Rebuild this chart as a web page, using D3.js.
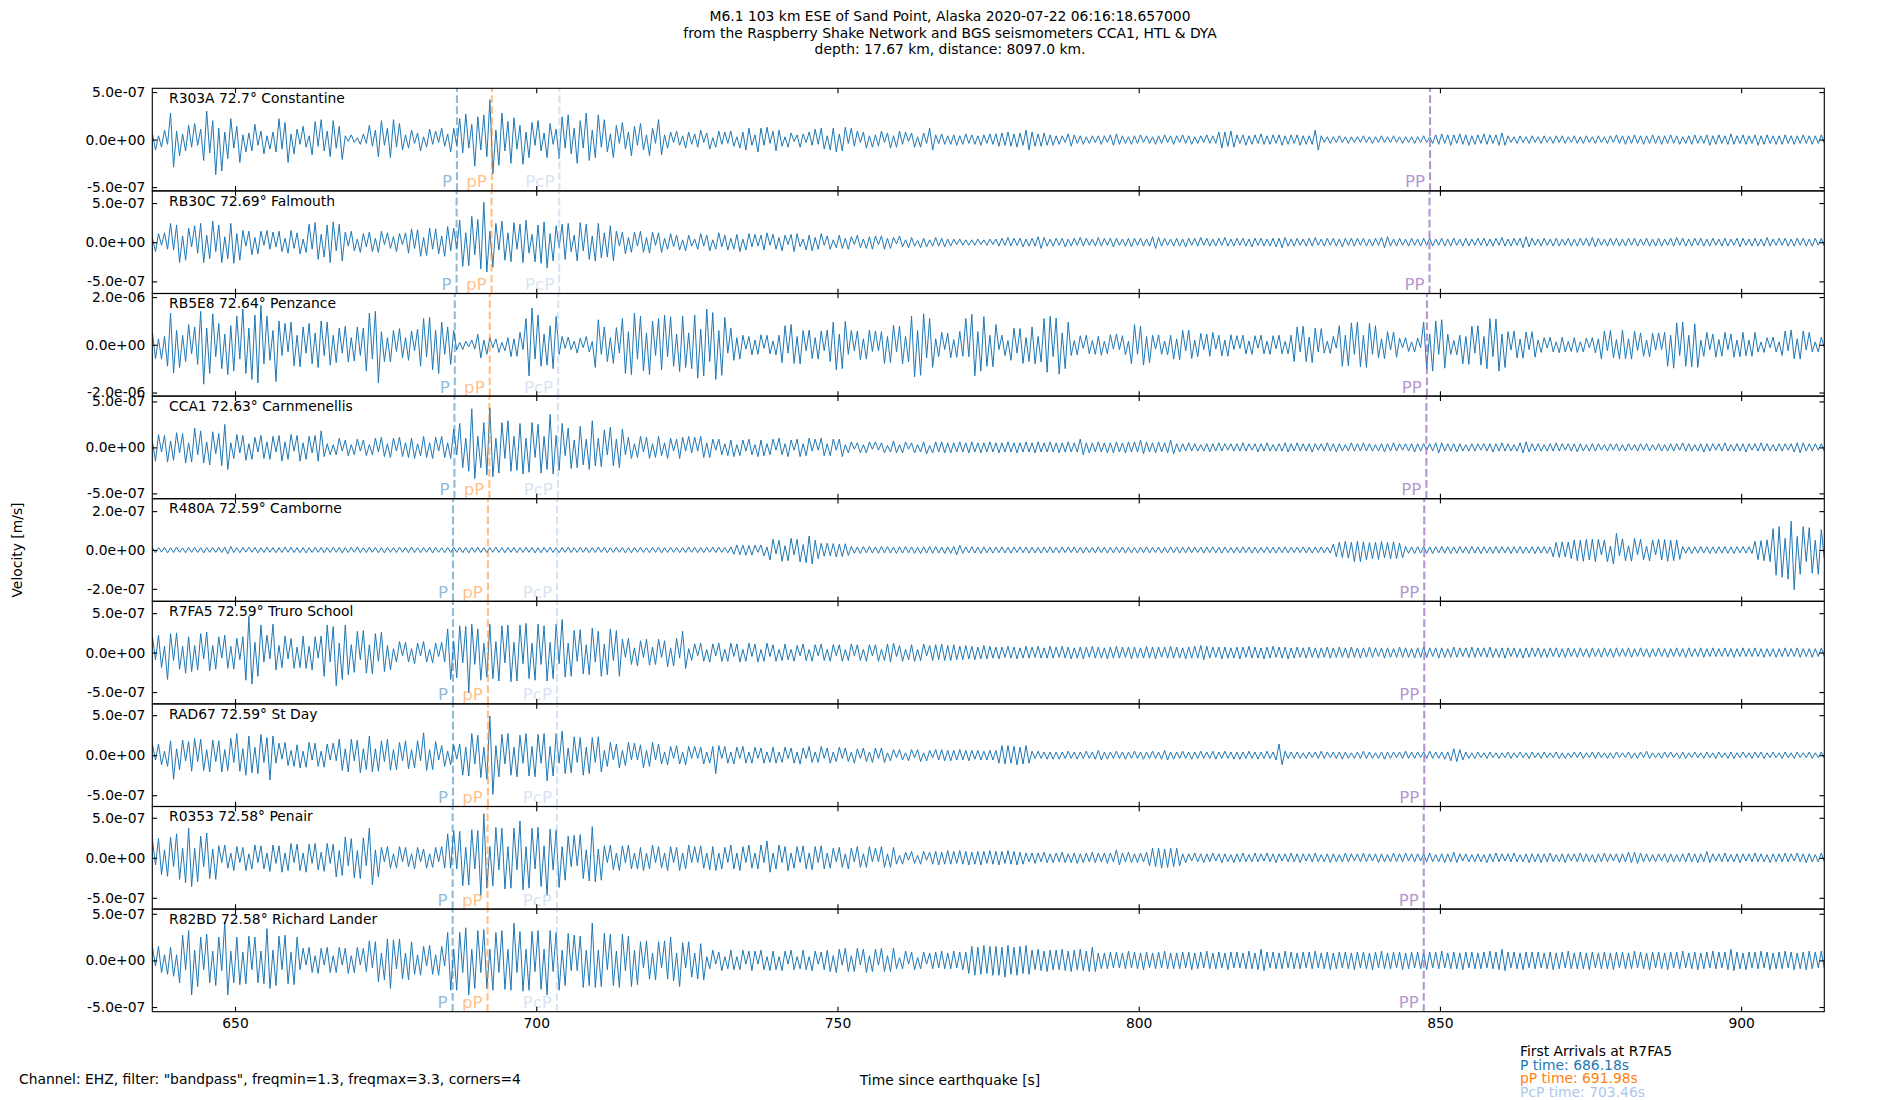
<!DOCTYPE html>
<html><head><meta charset="utf-8">
<script src="https://cdn.jsdelivr.net/npm/d3@7/dist/d3.min.js"></script>
<style>body{margin:0;background:#fff}svg text{font-family:"DejaVu Sans",sans-serif}</style>
</head><body><svg id="chart" width="1900" height="1100"></svg>
<script>
// ---------- data ----------
const stations = ["R303A","RB30C","RB5E8","CCA1","R480A","R7FA5","RAD67","R0353","R82BD"];
const distances = [72.7,72.69,72.64,72.63,72.59,72.59,72.59,72.58,72.58];
const places = ["Constantine","Falmouth","Penzance","Carnmenellis","Camborne","Truro School","St Day","Penair","Richard Lander"];
const yLimits = [5.4e-7,6.55e-7,2.15e-6,5.58e-7,2.64e-7,6.5e-7,6.41e-7,6.41e-7,5.5e-7];
const yTickSets = [[-5e-7,0,5e-7],[-5e-7,0,5e-7],[-2e-6,0,2e-6],[-5e-7,0,5e-7],[-2e-7,0,2e-7],[-5e-7,0,5e-7],[-5e-7,0,5e-7],[-5e-7,0,5e-7],[-5e-7,0,5e-7]];
const traceUnits = [1e-8,1e-8,1e-8,1e-8,1e-9,1e-8,1e-8,1e-8,1e-8];
const arrivalP   = [686.84,686.78,686.48,686.42,686.18,686.18,686.18,686.12,686.12];
const arrivalpP  = [692.64,692.58,692.28,692.22,691.98,691.98,691.98,691.92,691.92];
const arrivalPcP = [703.85,703.81,703.64,703.60,703.46,703.46,703.46,703.43,703.43];
const arrivalPP  = [848.36,848.27,847.84,847.75,847.40,847.40,847.40,847.31,847.31];
const phaseNames = ["P","pP","PcP","PP"];
const phaseColors = ["#1f77b4","#ff7f0e","#aec7e8","#9467bd"];
const phaseAlpha = [0.5,0.5,0.5,0.7];
const xTicks = [650,700,750,800,850,900];
const traceSpan = [636.3, 913.8];
const xDomain = [636.27, 913.8];
const titleLines = ["M6.1 103 km ESE of Sand Point, Alaska 2020-07-22 06:16:18.657000","from the Raspberry Shake Network and BGS seismometers CCA1, HTL & DYA","depth: 17.67 km, distance: 8097.0 km."];
const arrivalLines = ["First Arrivals at R7FA5","P time: 686.18s","pP time: 691.98s","PcP time: 703.46s"];
const arrivalColors = ["#000000","#1f77b4","#ff7f0e","#aec7e8"];

// successive peak/trough values (units in traceUnits)
const traceR303A = [
6,-11,4,-8,10,-5,28,-29,9,-17,6,-12,15,-8,17,-6,11,-22,30,-14,
20,-37,12,-33,8,-20,22,-9,14,-24,5,-13,7,-12,16,-6,9,-15,4,-10,
8,-13,22,-10,18,-24,6,-15,11,-5,14,-8,4,-16,19,-7,21,-12,9,-18,
20,-9,14,-21,4,-2,5,-3,2,-5,6,-4,15,-7,10,-18,20,-6,12,-19,
21,-8,17,-11,5,-9,10,-4,7,-12,3,-8,11,-5,9,-3,12,-7,6,-13,
12,-6,22,-14,27,-9,16,-28,24,-11,26,-18,42,-36,10,-27,28,-12,19,-25,
23,-10,15,-26,8,-19,18,-6,20,-12,7,-19,17,-5,11,-20,24,-9,26,-15,
12,-25,20,-9,28,-22,10,-19,26,-8,21,-13,6,-19,15,-4,18,-10,8,-17,
14,-6,17,-11,5,-17,12,-4,21,-16,5,-9,8,-3,9,-6,4,-9,8,-5,
6,-8,10,-3,7,-10,2,-8,9,-5,8,-4,9,-7,3,-9,8,-11,12,-6,
5,-13,12,-6,13,-4,9,-12,10,-7,3,-8,7,-2,5,-8,6,-3,8,-6,
11,-5,12,-10,4,-11,12,-13,6,-12,13,-4,12,-7,9,-3,8,-9,4,-8,
5,-7,9,-3,7,-9,4,-8,9,-5,8,-2,7,-8,3,-8,7,-4,12,-11,
5,-4,6,-5,4,-5,5,-6,4,-5,6,-4,5,-5,4,-6,5,-4,6,-5,
6,-7,7,-6,8,-7,6,-8,7,-6,10,-11,8,-7,6,-7,7,-6,5,-6,
4,-5,4,-3,6,-7,5,-4,4,-5,3,-4,4,-3,4,-5,4,-3,5,-6,
6,-5,4,-4,3,-5,4,-4,5,-3,4,-4,3,-5,4,-4,5,-3,4,-5,
4,-3,5,-4,4,-5,3,-4,4,-3,5,-4,4,-4,8,-9,8,-7,9,-8,
5,-4,5,-6,4,-5,5,-4,6,-5,4,-5,5,-4,5,-6,4,-5,5,-4,
5,-6,4,-5,4,-5,10,-11,4,-3,3,-4,3,-3,4,-3,3,-4,3,-3,
3,-3,4,-3,3,-4,3,-3,4,-3,3,-3,4,-3,3,-4,3,-3,3,-4,
3,-3,4,-3,3,-4,5,-5,6,-4,5,-6,5,-4,6,-5,5,-6,4,-5,
5,-4,6,-5,5,-4,5,-6,7,-6,4,-3,3,-4,4,-3,3,-4,4,-3,
3,-4,4,-3,3,-4,4,-3,4,-4,3,-3,4,-4,3,-4,4,-3,3,-4,
4,-3,3,-4,4,-3,5,-4,4,-5,4,-4,5,-4,4,-5,4,-4,5,-4,
4,-5,4,-4,5,-4,4,-5,3,-4,4,-5,5,-4,4,-4,5,-6,4,-5,
5,-4,4,-5,6,-5,4,-4,5,-5,4,-4,5,-6,4,-5,5,-4,4,-5,
4,-5,5,-4,4,-5,4,-4,5,-4,4,-5,4,-4,5,-4];
const traceRB30C = [
5,-12,11,-4,12,-9,24,-10,22,-26,8,-23,18,-6,21,-14,24,-26,9,-21,
27,-12,22,-26,7,-21,24,-27,11,-23,15,-5,14,-16,6,-15,14,-4,15,-9,
13,-6,14,-12,5,-14,15,-8,12,-15,4,-13,23,-9,25,-22,10,-19,22,-26,
26,-11,23,-24,13,-5,14,-11,4,-13,11,-6,13,-12,5,-13,14,-3,12,-8,
7,-12,11,-3,12,-14,17,-8,16,-18,6,-17,18,-9,17,-15,8,-18,20,-11,
18,-8,28,-31,12,-30,33,-16,29,-34,51,-38,14,-32,24,-10,27,-23,12,-25,
25,-9,23,-26,28,-14,10,-25,22,-27,26,-33,11,-24,21,-7,23,-22,24,-12,
9,-24,25,-11,23,-22,8,-24,24,-20,12,-19,21,-24,14,-5,13,-15,6,-13,
13,-5,14,-13,6,-14,13,-4,12,-13,5,-9,11,-6,9,-10,3,-11,9,-5,
4,-9,11,-5,9,-11,3,-9,12,-6,9,-10,5,-9,10,-12,4,-10,11,-6,
10,-5,9,-10,12,-4,10,-9,6,-11,9,-3,10,-12,11,-6,4,-10,9,-11,
6,-9,11,-4,8,-9,3,-7,9,-8,5,-9,7,-3,9,-7,4,-8,7,-9,
8,-3,8,-9,5,-8,6,-2,8,-6,3,-7,6,-5,2,-7,5,-6,3,-5,
6,-5,5,-6,4,-5,4,-3,4,-4,3,-4,3,-4,4,-3,3,-4,4,-3,
4,-5,5,-4,6,-5,5,-4,5,-6,4,-5,5,-5,7,-8,6,-5,4,-5,
5,-4,5,-6,4,-5,5,-4,6,-5,5,-4,4,-5,6,-5,5,-4,5,-6,
5,-4,4,-5,5,-6,5,-4,5,-5,4,-5,7,-8,6,-5,5,-4,4,-5,
5,-5,4,-6,5,-4,5,-5,6,-4,5,-5,4,-5,5,-4,6,-5,4,-5,
5,-4,5,-5,4,-6,5,-4,5,-5,4,-5,5,-6,5,-7,6,-5,4,-5,
5,-4,4,-5,5,-5,6,-4,4,-5,5,-4,5,-5,4,-6,5,-4,5,-5,
5,-4,5,-5,4,-5,5,-4,6,-7,7,-5,4,-5,5,-4,4,-5,5,-4,
4,-5,5,-4,5,-5,4,-4,5,-5,4,-5,5,-4,4,-5,5,-5,4,-4,
5,-4,5,-5,4,-5,5,-4,6,-5,4,-5,5,-4,5,-7,7,-6,5,-4,
4,-5,5,-4,4,-5,5,-5,4,-4,5,-5,4,-5,5,-4,5,-5,6,-6,
5,-4,4,-5,5,-4,5,-5,4,-5,5,-4,5,-5,4,-4,5,-5,4,-5,
5,-5,4,-4,5,-5,6,-4,5,-5,4,-5,5,-4,5,-5,4,-5,5,-4,
4,-5,5,-5,4,-4,5,-6,5,-4,4,-5,5,-5,4,-5,6,-5,4,-4,
5,-4,5,-5,4,-5,5,-4,5,-5,4,-5,5,-4,5,-5];
const traceRB5E8 = [
50,-58,25,-60,35,-90,133,-119,60,-95,40,-70,85,-38,75,-82,140,-165,70,-120,
130,-50,90,-100,45,-125,80,-110,120,-60,150,-120,70,-145,125,-160,165,-80,120,-65,
60,-154,100,-45,90,-30,95,-88,40,-92,75,-35,90,-80,50,-95,100,-45,95,-85,
40,-75,70,-35,78,-72,30,-68,75,-45,70,-110,133,-60,140,-160,55,-70,30,-72,
60,-28,68,-55,30,-65,58,-25,66,-90,110,-50,115,-105,60,-120,95,-40,75,-82,
60,-22,10,-20,15,-8,20,-18,45,-55,20,-40,30,-12,25,-32,10,-25,30,-50,
25,-48,52,-20,110,-130,154,-60,125,-90,45,-85,80,-100,119,-40,35,-15,32,-20,
15,-35,28,-12,35,-30,14,-95,105,-40,75,-70,30,-78,72,-35,110,-120,55,-125,
133,-60,120,-110,50,-125,100,-45,110,-105,125,-50,118,-90,45,-112,120,-95,50,-100,
125,-140,65,-130,150,-70,135,-145,60,-128,115,-35,70,-65,30,-60,40,-18,35,-42,
20,-40,42,-15,40,-38,16,-42,40,-75,80,-35,85,-78,35,-80,60,-25,62,-58,
30,-60,58,-25,62,-70,95,-105,45,-100,98,-40,60,-25,58,-62,25,-60,62,-28,
58,-25,55,-78,35,-75,82,-30,78,-80,35,-72,120,-135,60,-128,130,-55,110,-95,
25,-50,52,-20,48,-55,22,-52,56,-48,110,-50,128,-130,55,-110,118,-90,40,-92,
85,-20,40,-45,18,-65,70,-35,68,-78,30,-70,75,-80,35,-72,110,-115,119,-50,
112,-123,50,-100,95,-45,18,-42,38,-15,40,-38,18,-40,36,-44,15,-38,42,-18,
45,-20,38,-42,15,-80,85,-40,78,-85,35,-75,40,-18,42,-40,16,-42,40,-60,
25,-62,60,-25,62,-58,20,-50,48,-20,45,-48,52,-18,40,-46,20,-48,42,-20,
38,-15,40,-38,16,-40,38,-14,40,-38,15,-40,38,-16,40,-38,14,-38,40,-70,
75,-30,78,-70,32,-75,70,-30,68,-35,15,-36,35,-14,80,-90,40,-88,92,-40,
95,-92,40,-95,90,-40,80,-55,25,-58,55,-22,54,-52,28,-12,30,-28,12,-30,
28,-12,95,-100,45,-110,100,-40,105,-98,45,-40,18,-42,40,-80,35,-82,78,-35,
80,-85,35,-100,110,-50,108,-110,45,-95,55,-22,58,-55,24,-56,54,-20,55,-52,
20,-32,30,-14,32,-30,12,-33,32,-30,14,-28,30,-32,13,-30,28,-12,30,-34,
25,-60,58,-25,60,-55,22,-60,62,-58,25,-60,58,-24,50,-48,20,-50,48,-22,
50,-20,52,-90,40,-98,92,-45,95,-90,40,-92,88,-95,20,-48,52,-20,45,-52,
22,-48,52,-20,45,-52,20,-50,52,-46,20,-48,52,-30,12,-32,30,-12,32,-30,
12,-45,58,-25,62,-58,25,-60,58,-22,52,-30,12,-30,32,-12];
const traceCCA1 = [
6,-15,14,-5,13,-16,7,-14,16,-6,15,-17,5,-16,21,-8,18,-17,6,-19,
17,-7,15,-20,25,-24,5,-12,14,-6,13,-14,4,-13,11,-5,13,-12,6,-13,
12,-5,13,-15,6,-13,14,-4,13,-15,5,-13,12,-6,13,-15,18,-10,4,-8,
3,-8,10,-4,8,-9,3,-8,9,-4,8,-9,3,-8,10,-5,11,-10,4,-11,
10,-4,11,-10,5,-11,10,-12,4,-9,12,-11,5,-12,11,-4,12,-11,5,-12,
20,-8,26,-22,10,-26,42,-34,12,-22,27,-30,43,-32,10,-28,27,-12,29,-26,
12,-25,26,-29,10,-27,27,-11,25,-28,12,-24,36,-29,13,-25,26,-9,21,-23,
8,-22,23,-19,9,-24,29,-20,10,-21,19,-8,22,-20,9,-22,20,-8,11,-12,
4,-11,12,-5,11,-12,4,-11,12,-9,5,-12,10,-4,9,-12,11,-4,12,-6,
11,-4,12,-11,5,-11,9,-3,9,-8,4,-9,8,-10,3,-9,8,-4,9,-8,
3,-10,8,-9,4,-8,9,-3,10,-8,4,-10,8,-3,9,-10,4,-9,10,-4,
9,-3,10,-9,4,-9,9,-3,9,-10,3,-6,6,-2,5,-6,3,-6,6,-2,
6,-3,5,-6,2,-5,7,-6,3,-6,6,-2,5,-6,3,-5,6,-7,2,-6,
6,-5,6,-6,5,-6,5,-5,6,-5,5,-6,6,-5,5,-6,5,-5,6,-5,
5,-6,5,-5,6,-5,5,-6,5,-5,6,-5,5,-6,6,-5,5,-5,6,-5,
5,-6,5,-5,6,-5,5,-5,9,-8,5,-6,5,-5,6,-5,5,-6,5,-6,
6,-5,5,-6,6,-5,6,-5,8,-7,6,-5,5,-6,6,-5,5,-6,8,-7,
4,-5,4,-4,5,-4,4,-4,3,-4,4,-5,4,-4,5,-4,4,-3,4,-4,
4,-4,5,-4,4,-3,4,-5,4,-4,5,-4,3,-4,4,-4,5,-5,4,-4,
5,-4,4,-4,4,-5,4,-3,4,-4,5,-4,4,-5,4,-4,3,-4,5,-4,
4,-4,5,-4,4,-4,3,-4,4,-5,4,-4,5,-4,4,-3,4,-4,4,-5,
4,-4,4,-3,4,-4,5,-6,5,-4,4,-4,4,-5,4,-4,3,-4,4,-4,
4,-3,4,-4,4,-5,4,-4,5,-4,4,-4,3,-4,5,-6,6,-5,4,-4,
4,-4,3,-4,4,-4,5,-4,4,-3,4,-4,4,-5,4,-4,3,-4,4,-4,
4,-3,3,-4,4,-3,4,-4,3,-4,4,-3,3,-4,4,-3,4,-4,3,-3,
4,-4,3,-4,4,-4,4,-3,5,-4,4,-4,3,-4,4,-5,4,-4,4,-3,
4,-4,5,-4,3,-4,4,-4,4,-5,4,-3,4,-4,5,-4,4,-4,3,-4,
4,-4,4,-3,4,-5,5,-6,5,-4,4,-4,4,-3,4,-4];
const traceR480A = [
12,-14,13,-11,14,-15,12,-13,15,-12,11,-14,13,-12,14,-13,12,-15,13,-12,
13,-12,14,-13,15,-20,18,-13,12,-14,13,-11,14,-12,13,-15,12,-13,14,-12,
13,-14,12,-13,15,-12,14,-13,12,-14,13,-15,12,-13,14,-12,13,-14,12,-13,
14,-12,13,-15,12,-13,14,-12,16,-14,12,-13,14,-12,13,-14,12,-15,13,-12,
12,-13,14,-12,13,-14,15,-13,12,-14,13,-12,14,-15,13,-12,12,-14,13,-13,
14,-12,13,-14,12,-15,13,-12,14,-13,12,-14,13,-12,15,-13,12,-14,13,-12,
13,-14,12,-13,14,-12,13,-15,12,-14,13,-12,14,-13,12,-14,13,-12,14,-13,
12,-13,14,-12,13,-14,12,-13,15,-12,13,-14,12,-13,14,-12,13,-15,12,-14,
13,-12,14,-13,12,-14,13,-12,14,-15,12,-13,14,-12,13,-14,12,-13,15,-12,
13,-14,12,-13,14,-12,15,-13,14,-12,13,-15,16,-22,26,-24,25,-27,23,-26,
25,-12,26,-30,15,-52,55,-20,50,-58,22,-55,60,-25,55,-62,28,-65,72,-72,
50,-45,34,-32,35,-30,33,-36,30,-34,32,-28,18,-17,16,-18,17,-15,18,-16,
16,-17,18,-15,17,-16,15,-18,17,-16,18,-15,16,-17,15,-18,17,-16,18,-17,
17,-16,15,-18,16,-17,18,-25,24,-17,16,-15,17,-16,15,-17,16,-15,14,-16,
15,-14,16,-15,14,-16,15,-13,16,-14,15,-16,14,-15,13,-16,15,-14,16,-15,
14,-15,16,-14,15,-13,16,-15,14,-16,15,-14,13,-15,16,-14,15,-16,14,-15,
16,-14,15,-16,14,-15,13,-16,15,-14,16,-15,14,-13,15,-16,14,-15,16,-14,
15,-16,14,-15,16,-14,15,-13,14,-16,15,-14,16,-15,14,-16,15,-14,13,-15,
14,-15,16,-14,15,-16,14,-15,13,-14,16,-15,14,-16,15,-14,16,-15,14,-13,
15,-14,16,-15,14,-16,15,-14,16,-15,14,-16,30,-35,40,-38,45,-42,40,-60,
45,-60,42,-50,38,-45,40,-48,44,-40,38,-46,42,-44,36,-40,18,-17,16,-18,
17,-16,18,-17,16,-18,17,-15,18,-16,17,-18,16,-17,18,-15,16,-17,18,-16,
16,-18,17,-16,15,-17,18,-16,17,-15,16,-18,17,-16,18,-17,15,-16,17,-18,
17,-16,18,-17,16,-35,40,-38,42,-36,40,-44,52,-55,50,-58,55,-52,56,-60,
54,-25,52,-60,20,-72,86,-30,58,-55,22,-58,60,-24,55,-50,20,-56,52,-25,
56,-52,54,-58,50,-55,52,-48,18,-17,16,-18,17,-16,18,-15,17,-18,16,-17,
17,-16,18,-17,16,-18,17,-15,18,-16,17,-18,45,-50,48,-55,52,-60,110,-130,
120,-140,60,-150,148,-204,70,-125,120,-60,115,-120,50,-125,105,-45];
const traceR7FA5 = [
20,-9,22,-19,8,-34,24,-10,25,-21,8,-26,20,-24,9,-22,24,-8,26,-23,
9,-21,20,-7,22,-20,8,-21,18,-9,20,-35,46,-40,13,-30,35,-12,22,-8,
36,-22,9,-19,21,-8,18,-20,7,-19,21,-20,8,-22,20,-7,21,-30,35,-12,
33,-42,12,-34,35,-28,10,-25,27,-9,28,-26,10,-27,24,-11,26,-24,9,-22,
5,-12,14,-4,13,-12,5,-14,12,-4,14,-12,4,-13,12,-5,13,-12,30,-34,
14,-32,34,-13,33,-51,36,-15,30,-35,12,-31,36,-33,14,-36,34,-13,35,-37,
13,-36,35,-14,37,-33,12,-35,36,-15,34,-36,13,-33,36,-14,42,-31,12,-30,
28,-11,29,-27,10,-28,31,-12,27,-30,11,-28,30,-10,28,-30,17,-6,18,-15,
6,-17,15,-6,17,-16,7,-15,17,-6,15,-18,6,-17,18,-7,27,-20,5,-10,
11,-4,12,-11,4,-12,11,-4,12,-11,4,-11,12,-5,11,-12,4,-11,12,-5,
11,-12,4,-11,12,-5,10,-11,4,-10,11,-9,4,-11,9,-4,11,-10,4,-11,
10,-4,11,-10,4,-11,10,-4,10,-11,4,-10,11,-4,10,-10,4,-11,10,-4,
10,-11,4,-10,11,-12,12,-5,9,-11,4,-9,10,-11,4,-10,11,-4,9,-10,
10,-9,11,-10,9,-10,10,-9,8,-9,9,-8,8,-9,7,-8,9,-8,8,-7,
7,-8,7,-6,8,-7,7,-8,6,-7,8,-7,7,-6,8,-7,6,-7,8,-7,
7,-6,8,-7,7,-8,6,-7,7,-8,7,-6,8,-7,7,-7,6,-8,7,-7,
8,-7,7,-6,7,-8,7,-7,6,-7,8,-7,7,-8,7,-6,7,-7,8,-7,
7,-7,6,-8,7,-7,8,-7,9,-9,8,-7,7,-6,7,-8,7,-7,6,-7,
7,-8,7,-6,8,-7,7,-7,6,-8,7,-7,8,-6,7,-7,7,-8,6,-7,
7,-6,6,-7,7,-6,6,-7,6,-6,7,-7,6,-6,7,-6,6,-7,7,-6,
6,-7,6,-6,7,-6,6,-5,6,-7,6,-6,5,-6,7,-6,6,-6,5,-7,
6,-6,7,-6,6,-5,6,-7,6,-6,5,-6,7,-6,6,-5,6,-6,7,-6,
6,-5,6,-6,7,-6,5,-6,6,-7,6,-5,6,-6,5,-7,6,-6,6,-5,
6,-6,5,-6,6,-5,6,-6,5,-6,6,-5,5,-6,6,-5,5,-6,6,-5,
5,-6,6,-5,5,-6,6,-5,5,-5,6,-6,5,-5,6,-5,5,-6,5,-5,
6,-5,5,-6,5,-5,6,-5,5,-6,6,-5,5,-5,6,-6,5,-5,6,-5,
5,-5,6,-5,5,-6,5,-5,6,-5,5,-5,6,-5,5,-6,5,-5,5,-6,
5,-5,6,-5,5,-5,6,-6,5,-5,5,-6,5,-5,6,-5];
const traceRAD67 = [
13,-6,14,-12,5,-14,18,-30,8,-18,19,-7,17,-20,21,-8,20,-19,7,-21,
19,-8,18,-21,7,-19,21,-9,27,-20,8,-25,24,-22,10,-23,26,-9,22,-31,
24,-10,15,-5,16,-13,6,-14,13,-16,5,-15,16,-6,15,-14,5,-15,14,-6,
15,-7,20,-19,8,-21,20,-7,19,-22,8,-18,24,-21,8,-20,18,-8,20,-19,
7,-18,16,-7,18,-17,7,-16,18,-7,28,-19,7,-18,17,-6,12,-14,5,-12,
13,-5,14,-25,10,-26,27,-11,25,-28,10,-30,49,-49,12,-27,26,-11,27,-25,
10,-27,25,-10,27,-26,11,-27,26,-10,27,-32,11,-26,27,-10,30,-23,9,-22,
23,-9,22,-25,10,-23,22,-9,23,-21,6,-14,16,-6,14,-16,6,-13,16,-6,
15,-6,13,-16,6,-14,16,-6,14,-11,4,-12,11,-4,12,-11,4,-12,11,-4,
11,-4,10,-11,4,-10,11,-23,12,-4,11,-10,4,-11,10,-4,11,-10,4,-10,
10,-4,9,-10,4,-9,10,-10,4,-9,10,-4,9,-10,4,-11,9,-4,11,-9,
4,-9,11,-4,9,-10,4,-8,10,-4,9,-8,4,-10,8,-4,9,-8,4,-9,
9,-4,9,-9,3,-7,7,-3,7,-6,3,-7,7,-3,7,-8,3,-7,6,-3,
7,-6,7,-7,6,-7,6,-6,7,-6,6,-7,6,-5,6,-6,5,-6,6,-6,
6,-10,12,-11,12,-10,11,-12,10,-11,12,-10,5,-4,5,-4,4,-5,4,-5,
4,-5,4,-4,5,-4,4,-5,4,-4,5,-4,4,-5,6,-6,4,-5,4,-4,
5,-4,4,-5,4,-4,5,-4,4,-5,4,-4,5,-4,4,-5,6,-6,4,-5,
4,-4,5,-4,4,-5,4,-4,5,-4,4,-4,5,-5,4,-4,5,-4,4,-5,
4,-5,4,-4,5,-4,4,-5,4,-4,5,-4,4,-6,14,-12,5,-4,4,-4,
4,-4,3,-4,4,-3,4,-4,5,-4,4,-3,4,-4,4,-5,4,-4,3,-4,
4,-4,5,-4,4,-4,3,-4,4,-5,4,-4,4,-3,4,-4,5,-4,4,-4,
4,-3,4,-4,5,-4,4,-4,4,-5,4,-7,8,-8,7,-6,4,-4,3,-4,
4,-3,3,-4,4,-3,3,-4,3,-3,4,-4,3,-3,4,-3,3,-4,4,-3,
3,-4,4,-3,3,-3,4,-4,3,-4,3,-3,4,-3,4,-4,3,-3,4,-4,
4,-3,3,-4,3,-4,4,-3,3,-3,4,-4,3,-4,4,-3,5,-4,3,-3,
3,-4,4,-3,4,-3,3,-4,4,-4,3,-3,4,-3,3,-4,4,-3,3,-4,
4,-3,3,-4,4,-4,3,-3,4,-3,3,-4,4,-3,4,-4,3,-3,4,-3,
3,-4,4,-3,3,-4,4,-3,3,-3,4,-4,3,-3,4,-4];
const traceR0353 = [
22,-9,24,-21,10,-23,26,-11,30,-27,12,-31,37,-36,12,-30,27,-11,31,-26,
11,-27,15,-6,16,-13,6,-16,14,-6,13,-16,5,-14,16,-6,15,-14,6,-17,
16,-7,15,-18,6,-16,18,-6,17,-16,6,-18,17,-7,18,-15,7,-17,18,-7,
17,-24,9,-22,26,-10,24,-25,9,-26,25,-10,37,-34,10,-24,13,-5,14,-13,
5,-13,14,-5,13,-11,5,-14,13,-5,11,-13,5,-12,13,-5,14,-13,30,-13,
34,-14,33,-35,13,-34,35,-14,34,-47,55,-38,14,-35,38,-15,37,-39,14,-38,
37,-15,46,-40,14,-38,37,-14,38,-36,15,-47,36,-15,35,-37,14,-28,27,-11,
28,-10,29,-26,10,-29,39,-30,11,-28,15,-6,16,-15,6,-16,15,-6,16,-14,
6,-14,13,-16,6,-14,16,-6,14,-13,6,-16,14,-6,13,-16,6,-14,16,-6,
14,-6,15,-13,6,-15,14,-16,6,-14,13,-6,16,-14,6,-16,14,-6,16,-13,
6,-14,16,-6,21,-18,6,-14,16,-6,14,-16,6,-13,14,-6,15,-14,6,-15,
14,-6,15,-14,6,-13,12,-5,13,-12,5,-14,12,-5,14,-12,5,-12,14,-5,
12,-5,14,-12,5,-12,13,-8,3,-8,7,-3,8,-7,3,-8,8,-3,7,-8,
8,-9,7,-8,9,-8,8,-7,9,-8,8,-9,7,-8,8,-9,8,-7,9,-8,
8,-9,8,-7,9,-8,8,-9,7,-8,6,-5,6,-7,6,-5,7,-6,5,-6,
6,-5,7,-6,5,-6,6,-7,5,-6,6,-5,7,-6,6,-5,6,-7,6,-5,
10,-9,6,-5,7,-6,5,-6,6,-5,7,-10,12,-11,12,-13,11,-12,12,-11,
12,-10,5,-6,5,-4,6,-5,5,-6,5,-5,6,-4,5,-6,5,-5,4,-6,
5,-5,6,-5,4,-5,6,-5,5,-4,6,-5,5,-6,5,-4,5,-5,6,-5,
5,-6,5,-4,5,-5,6,-5,4,-5,5,-6,5,-5,4,-5,6,-5,5,-4,
5,-5,6,-5,5,-4,5,-6,5,-5,4,-5,6,-5,5,-5,6,-4,5,-5,
5,-4,5,-5,6,-5,4,-5,5,-6,5,-5,7,-6,5,-4,5,-5,4,-5,
5,-5,4,-6,5,-5,6,-5,5,-4,5,-5,6,-5,4,-5,5,-6,5,-5,
5,-6,5,-5,6,-5,4,-5,5,-6,5,-4,5,-5,6,-5,5,-5,4,-6,
5,-5,6,-5,5,-4,5,-6,5,-5,7,-6,7,-7,6,-5,5,-5,4,-5,
5,-4,5,-6,5,-5,4,-5,5,-5,6,-5,5,-6,5,-5,8,-6,5,-4,
5,-5,6,-5,4,-5,5,-6,5,-4,5,-5,6,-5,5,-5,4,-6,5,-5,
5,-5,6,-5,5,-4,6,-5,5,-6,5,-5,4,-5,6,-5];
const traceR82BD = [
14,-6,15,-13,6,-15,14,-17,6,-24,27,-10,32,-37,11,-28,25,-10,28,-24,
10,-27,25,-11,41,-37,10,-24,25,-26,9,-25,26,-10,25,-24,10,-25,34,-30,
11,-27,26,-10,27,-25,9,-26,25,-10,13,-5,14,-13,5,-14,13,-5,14,-13,
5,-13,14,-5,13,-14,5,-13,14,-5,13,-12,21,-8,20,-23,8,-21,23,-30,
22,-9,23,-20,8,-21,20,-15,6,-16,15,-6,16,-15,6,-16,15,-6,30,-32,
12,-32,30,-13,35,-37,12,-30,32,-13,33,-30,12,-32,30,-13,32,-31,12,-32,
40,-13,31,-33,12,-32,31,-12,32,-31,12,-37,32,-12,30,-32,11,-27,29,-11,
27,-11,26,-29,11,-27,40,-29,11,-28,29,-10,28,-27,10,-29,28,-11,26,-28,
11,-26,20,-8,21,-20,8,-21,20,-8,21,-20,25,-22,8,-28,19,-8,20,-18,
8,-20,18,-21,4,-9,11,-4,9,-11,4,-9,11,-10,4,-10,11,-4,10,-11,
10,-4,11,-10,4,-11,10,-10,4,-11,10,-4,11,-10,4,-9,11,-10,4,-11,
10,-4,9,-10,11,-12,5,-13,12,-5,13,-12,5,-12,13,-5,12,-13,5,-12,
12,-5,13,-12,5,-12,13,-9,3,-9,10,-4,9,-10,3,-9,9,-4,8,-9,
9,-8,10,-9,8,-9,10,-8,9,-10,9,-14,15,-16,14,-15,16,-14,15,-16,
15,-16,14,-18,16,-15,14,-16,15,-14,16,-15,11,-10,12,-11,10,-12,11,-10,
11,-10,12,-11,10,-12,11,-10,12,-11,10,-12,14,-12,8,-9,8,-9,9,-8,
9,-8,8,-9,10,-8,9,-9,8,-10,9,-8,8,-9,9,-8,10,-9,8,-9,
8,-9,9,-8,9,-10,8,-9,9,-8,10,-9,8,-9,9,-8,8,-10,9,-8,
9,-8,8,-9,10,-9,8,-10,12,-11,9,-8,9,-9,8,-9,10,-8,9,-9,
8,-9,9,-8,9,-9,10,-8,8,-9,9,-10,8,-9,9,-8,9,-9,8,-10,
9,-8,9,-9,8,-10,9,-8,10,-9,8,-9,9,-8,9,-10,8,-9,9,-8,
9,-9,8,-10,9,-8,9,-9,10,-8,8,-9,9,-9,8,-10,9,-8,9,-9,
8,-9,9,-8,10,-9,9,-10,12,-11,9,-8,9,-9,8,-10,9,-8,9,-9,
9,-8,8,-9,9,-10,8,-9,9,-8,10,-9,8,-9,9,-9,8,-10,9,-8,
8,-9,9,-9,8,-10,9,-8,9,-9,8,-9,10,-8,9,-9,8,-10,9,-8,
9,-9,8,-10,9,-8,9,-9,10,-8,8,-9,9,-10,8,-9,9,-8,10,-9,
9,-8,9,-10,12,-11,9,-9,8,-10,9,-8,9,-9,10,-8,9,-10,8,-9,
9,-9,10,-8,9,-10,8,-9,9,-10,10,-9,9,-8,10,-9];
const traces = [traceR303A,traceRB30C,traceRB5E8,traceCCA1,traceR480A,traceR7FA5,traceRAD67,traceR0353,traceR82BD];

// ---------- layout ----------
const W = 1900, H = 1100;
const plotLeft = 152.3, plotRight = 1824.3, plotTop = 88.3, plotBottom = 1011.7;
const nPanels = stations.length;
const panelH = (plotBottom - plotTop) / nPanels;
const FS = 13.89, FS_PHASE = 16.67, TICK = 4.86;

const svg = d3.select("#chart");
svg.append("rect").attr("width", W).attr("height", H).attr("fill", "#fff");

const x = d3.scaleLinear().domain(xDomain).range([plotLeft, plotRight]);

function sci(v) {
  return v.toExponential(1).replace(/e([+-])(\d)$/, (m, s, d) => "e" + s + "0" + d);
}

const defs = svg.append("defs");

stations.forEach((st, i) => {
  const top = plotTop + i * panelH, bottom = top + panelH;
  const L = yLimits[i];
  const y = d3.scaleLinear().domain([-L, L]).range([bottom, top]);
  const g = svg.append("g");

  defs.append("clipPath").attr("id", "clip" + i)
    .append("rect").attr("x", plotLeft).attr("y", top)
    .attr("width", plotRight - plotLeft).attr("height", panelH);

  // trace
  const vals = traces[i], unit = traceUnits[i];
  const dt = (traceSpan[1] - traceSpan[0]) / (vals.length - 1);
  const line = d3.line()
    .x((d, k) => x(traceSpan[0] + k * dt))
    .y(d => y(d * unit));
  g.append("path").datum(vals)
    .attr("clip-path", "url(#clip" + i + ")")
    .attr("d", line)
    .attr("fill", "none").attr("stroke", "#1f77b4").attr("stroke-width", 1.0)
    .attr("stroke-linejoin", "round");

  // phase arrivals
  const times = [arrivalP[i], arrivalpP[i], arrivalPcP[i], arrivalPP[i]];
  times.forEach((t, j) => {
    g.append("line")
      .attr("x1", x(t)).attr("x2", x(t)).attr("y1", bottom).attr("y2", top)
      .attr("stroke", phaseColors[j]).attr("stroke-opacity", phaseAlpha[j])
      .attr("stroke-width", 2.08).attr("stroke-dasharray", "7.7 3.3");
  });
  times.forEach((t, j) => {
    g.append("text")
      .attr("x", x(t) - 5).attr("y", bottom - 3.5)
      .attr("text-anchor", "end").attr("font-size", FS_PHASE)
      .attr("fill", phaseColors[j]).attr("fill-opacity", phaseAlpha[j])
      .text(phaseNames[j]);
  });

  // station label
  g.append("text")
    .attr("x", plotLeft + 16.7).attr("y", top + 14.7)
    .attr("font-size", FS).attr("fill", "#000")
    .text(`${st} ${distances[i]}° ${places[i]}`);

  // spines
  g.append("rect")
    .attr("x", plotLeft).attr("y", top)
    .attr("width", plotRight - plotLeft).attr("height", panelH)
    .attr("fill", "none").attr("stroke", "#000").attr("stroke-width", 1.11);

  // axes (ticks pointing inwards)
  const styleAxis = sel => {
    sel.select(".domain").remove();
    sel.selectAll("line").attr("stroke", "#000").attr("stroke-width", 1.11);
    sel.selectAll("text").attr("font-size", FS).attr("fill", "#000")
      .attr("font-family", '"DejaVu Sans", sans-serif');
    sel.attr("font-size", null).attr("font-family", null);
  };
  g.append("g").attr("transform", `translate(${plotLeft},0)`)
    .call(d3.axisLeft(y).tickValues(yTickSets[i]).tickSizeInner(-TICK).tickSizeOuter(0).tickPadding(7).tickFormat(sci))
    .call(styleAxis);
  g.append("g").attr("transform", `translate(${plotRight},0)`)
    .call(d3.axisRight(y).tickValues(yTickSets[i]).tickSizeInner(-TICK).tickSizeOuter(0).tickFormat(""))
    .call(styleAxis);
  g.append("g").attr("transform", `translate(0,${top})`)
    .call(d3.axisTop(x).tickValues(xTicks).tickSizeInner(-TICK).tickSizeOuter(0).tickFormat(""))
    .call(styleAxis);
  const isLast = i === nPanels - 1;
  g.append("g").attr("transform", `translate(0,${bottom})`)
    .call(d3.axisBottom(x).tickValues(xTicks).tickSizeInner(-TICK).tickSizeOuter(0).tickPadding(6.5)
      .tickFormat(isLast ? d3.format("d") : ""))
    .call(styleAxis);
});

// title
titleLines.forEach((t, k) => {
  svg.append("text").attr("x", W / 2).attr("y", 21 + k * 16.5)
    .attr("text-anchor", "middle").attr("font-size", FS).attr("fill", "#000").text(t);
});

// y label
svg.append("text").attr("transform", "translate(17,550) rotate(-90)")
  .attr("text-anchor", "middle").attr("dominant-baseline", "central")
  .attr("font-size", FS).attr("fill", "#000").text("Velocity [m/s]");

// x label and footer
svg.append("text").attr("x", W / 2).attr("y", 1084.5).attr("text-anchor", "middle")
  .attr("font-size", FS).attr("fill", "#000").text("Time since earthquake [s]");
svg.append("text").attr("x", 19).attr("y", 1084).attr("font-size", FS).attr("fill", "#000")
  .text('Channel: EHZ, filter: "bandpass", freqmin=1.3, freqmax=3.3, corners=4');

arrivalLines.forEach((t, k) => {
  svg.append("text").attr("x", 1520).attr("y", 1056 + k * 13.5)
    .attr("font-size", FS).attr("fill", arrivalColors[k]).text(t);
});
</script>
</body></html>
